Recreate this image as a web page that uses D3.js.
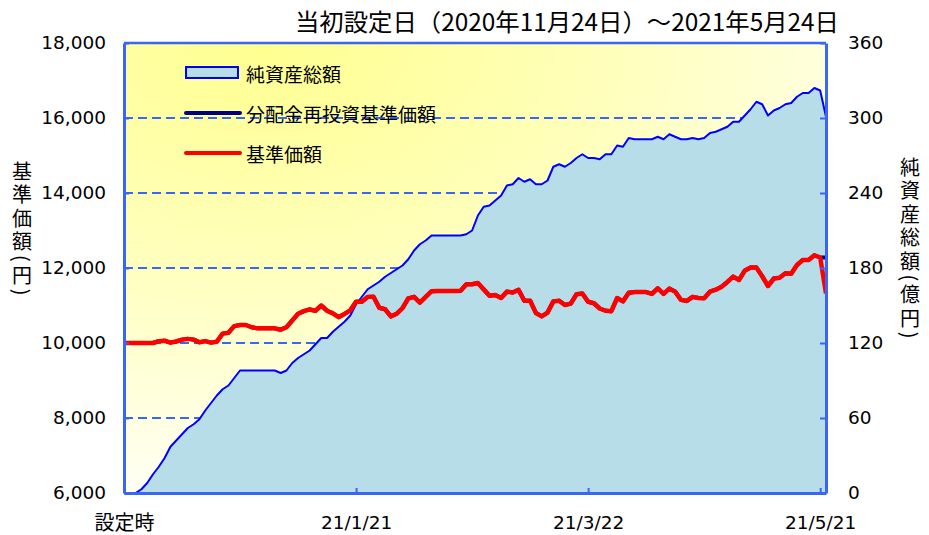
<!DOCTYPE html>
<html><head><meta charset="utf-8">
<script src="https://cdn.jsdelivr.net/npm/d3@7"></script>
<style>
html,body{margin:0;padding:0;background:#fff;}
svg{display:block;}
.vtitle{writing-mode:vertical-rl;letter-spacing:3.5px;}
</style></head>
<body>
<svg id="chart" width="929" height="535"></svg>
<script>
// ---------- data ----------
const titleText = "当初設定日（2020年11月24日）～2021年5月24日";
const xTickIndex = [0, 40, 80, 120];
const xTickLabels = ["設定時", "21/1/21", "21/3/22", "21/5/21"];
const leftTicks = [6000, 8000, 10000, 12000, 14000, 16000, 18000];
const rightTicks = [0, 60, 120, 180, 240, 300, 360];
const leftTitle = "基準価額(円)";
const rightTitle = "純資産総額(億円)";
const legendLabels = ["純資産総額", "分配金再投資基準価額", "基準価額"];

// 純資産総額 (億円)
const netAssets = [0,0,0,3,8,15,21,28,37,42,
 47,52,55,59,66,72,78,83,86,92,
 98,98,98,98,98,98,98,96,98,104,
 108,111,114,119,124,124,129,133,137,142,
 151,157,163,166,169,173,176,179,182,187,
 194,199,202,206,206,206,206,206,206,207,
 210,222,229,230,234,238,246,247,252,249,
 251,247,247,250,261,263,261,264,268,271,
 268,268,267,271,271,278,277,284,283,283,
 283,283,285,283,287,285,283,283,284,283,
 284,288,289,291,293,297,297,302,307,313,
 311,302,306,308,311,312,317,320,320,324,
 322,301];
// 基準価額 (円)
const navPrice = [10000,10000,10000,10000,10000,10000,10050,10061,10010,10040,
 10090,10110,10090,10020,10050,10010,10035,10250,10275,10450,
 10480,10480,10420,10391,10391,10391,10391,10355,10420,10600,
 10780,10850,10895,10861,11000,10860,10790,10690,10775,10870,
 11101,11101,11230,11235,10940,10900,10710,10780,10930,11190,
 11230,11075,11230,11380,11387,11387,11387,11387,11390,11565,
 11565,11600,11430,11260,11280,11200,11370,11345,11420,11128,
 11128,10800,10710,10810,11110,11128,11013,11050,11300,11320,
 11100,11060,10920,10860,10848,11200,11110,11340,11357,11357,
 11357,11310,11460,11310,11450,11370,11150,11120,11230,11200,
 11192,11370,11421,11500,11629,11770,11680,11930,12013,12013,
 11780,11520,11720,11739,11860,11848,12080,12213,12213,12340,
 12280,11320];
// 分配金再投資基準価額 (円)
const navReinvest = [10000,10000,10000,10000,10000,10000,10050,10061,10010,10040,
 10090,10110,10090,10020,10050,10010,10035,10250,10275,10450,
 10480,10480,10420,10391,10391,10391,10391,10355,10420,10600,
 10780,10850,10895,10861,11000,10860,10790,10690,10775,10870,
 11101,11101,11230,11235,10940,10900,10710,10780,10930,11190,
 11230,11075,11230,11380,11387,11387,11387,11387,11390,11565,
 11565,11600,11430,11260,11280,11200,11370,11345,11420,11128,
 11128,10800,10710,10810,11110,11128,11013,11050,11300,11320,
 11100,11060,10920,10860,10848,11200,11110,11340,11357,11357,
 11357,11310,11460,11310,11450,11370,11150,11120,11230,11200,
 11192,11370,11421,11500,11629,11770,11680,11930,12013,12013,
 11780,11520,11720,11739,11860,11848,12080,12213,12213,12340,
 12280,12280];

// ---------- layout ----------
const L = 124, R = 826, T = 43, B = 493;
const svg = d3.select("#chart");
const x = d3.scaleLinear().domain([0, netAssets.length - 1]).range([L, R]);
const yL = d3.scaleLinear().domain([6000, 18000]).range([B, T]);
const yR = d3.scaleLinear().domain([0, 360]).range([B, T]);
const axisColor = "#3a66f5";
const numFont = "'DejaVu Sans', sans-serif";
const jpFont = "'Noto Sans CJK JP', sans-serif";

// background gradient
const defs = svg.append("defs");
const grad = defs.append("radialGradient").attr("id", "bg")
  .attr("cx", 0.2).attr("cy", 0).attr("r", 1.0).attr("fx", 0.2).attr("fy", 0);
grad.append("stop").attr("offset", 0).attr("stop-color", "#ffff90");
grad.append("stop").attr("offset", 0.5).attr("stop-color", "#ffffbc");
grad.append("stop").attr("offset", 1).attr("stop-color", "#fffff2");
svg.append("rect").attr("x", L).attr("y", T).attr("width", R - L).attr("height", B - T)
  .attr("fill", "url(#bg)");

// grid lines
svg.append("g").selectAll("line").data(leftTicks.filter(d => d > 6000 && d < 18000)).join("line")
  .attr("x1", L).attr("x2", R).attr("y1", d => yL(d)).attr("y2", d => yL(d))
  .attr("stroke", axisColor).attr("stroke-width", 2).attr("stroke-dasharray", "9,5");

// area
const idx = d3.range(netAssets.length);
svg.append("path").datum(idx)
  .attr("d", d3.area().x(i => x(i)).y0(B).y1(i => yR(netAssets[i])))
  .attr("fill", "#b7dde8");
svg.append("path").datum(idx)
  .attr("d", d3.line().x(i => x(i)).y(i => yR(netAssets[i])))
  .attr("fill", "none").attr("stroke", "#0000ff").attr("stroke-width", 2).attr("stroke-linejoin", "round");

// lines
svg.append("path").datum(idx)
  .attr("d", d3.line().x(i => x(i)).y(i => yL(navReinvest[i])))
  .attr("fill", "none").attr("stroke", "#000080").attr("stroke-width", 4).attr("stroke-linejoin", "round");
svg.append("path").datum(idx)
  .attr("d", d3.line().x(i => x(i)).y(i => yL(navPrice[i])))
  .attr("fill", "none").attr("stroke", "#ff0000").attr("stroke-width", 4.5).attr("stroke-linejoin", "round");

// axes
const gL = svg.append("g").attr("transform", `translate(${L},0)`)
  .call(d3.axisLeft(yL).tickValues(leftTicks).tickFormat(d3.format(",")).tickSizeInner(-5).tickSizeOuter(0).tickPadding(18));
const gR = svg.append("g").attr("transform", `translate(${R},0)`)
  .call(d3.axisRight(yR).tickValues(rightTicks).tickSizeInner(-6).tickSizeOuter(0).tickPadding(22));
const gB = svg.append("g").attr("transform", `translate(0,${B})`)
  .call(d3.axisBottom(x).tickValues(xTickIndex).tickFormat((d, i) => xTickLabels[i]).tickSizeInner(-5).tickSizeOuter(0).tickPadding(18));
[gL, gR, gB].forEach(g => {
  g.select(".domain").attr("stroke", axisColor).attr("stroke-width", 3);
  g.selectAll(".tick line").attr("stroke", axisColor).attr("stroke-width", 2);
  g.selectAll("text").attr("fill", "#000").attr("font-family", numFont).attr("font-size", 18.5);
});
gB.selectAll("text").filter((d, i) => i === 0).attr("font-family", jpFont).attr("font-size", 20);
gB.selectAll("text").attr("dy", "0.95em");
svg.append("line").attr("x1", L).attr("x2", R).attr("y1", T).attr("y2", T)
  .attr("stroke", axisColor).attr("stroke-width", 2.5);

// title
svg.append("text").attr("x", 567).attr("y", 31).attr("text-anchor", "middle")
  .attr("font-family", jpFont).attr("font-size", 24).attr("fill", "#000")
  .attr("textLength", 544).attr("lengthAdjust", "spacingAndGlyphs").text(titleText);

// vertical axis titles
function vTitle(str, cx, yTop) {
  svg.append("text").attr("class", "vtitle").attr("x", cx).attr("y", yTop)
    .attr("font-family", jpFont).attr("font-size", 20).attr("fill", "#000").text(str);
}
vTitle(leftTitle, 22, 161);
vTitle(rightTitle, 910, 157);

// legend
const lg = svg.append("g");
lg.append("rect").attr("x", 186).attr("y", 67).attr("width", 52).attr("height", 11)
  .attr("fill", "#b7dde8").attr("stroke", "#0000ff").attr("stroke-width", 2);
lg.append("line").attr("x1", 186).attr("x2", 240).attr("y1", 113).attr("y2", 113)
  .attr("stroke", "#000080").attr("stroke-width", 4).attr("stroke-linecap", "round");
lg.append("line").attr("x1", 186).attr("x2", 240).attr("y1", 153).attr("y2", 153)
  .attr("stroke", "#ff0000").attr("stroke-width", 4).attr("stroke-linecap", "round");
lg.selectAll("text").data(legendLabels).join("text")
  .attr("x", 246).attr("y", (d, i) => 73 + i * 40).attr("dominant-baseline", "central")
  .attr("font-family", jpFont).attr("font-size", 19).attr("fill", "#000").text(d => d);
</script>
</body></html>
